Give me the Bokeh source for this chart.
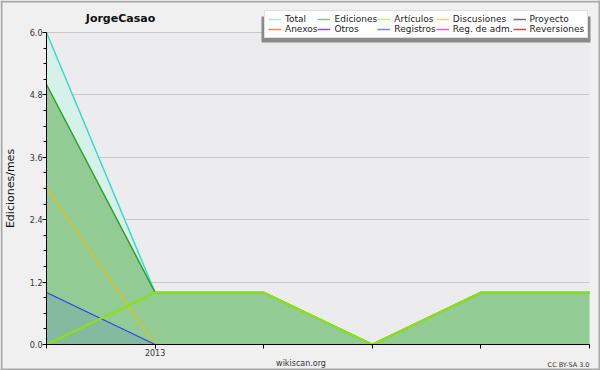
from bokeh.plotting import figure
from bokeh.models import (Range1d, FixedTicker, PrintfTickFormatter, Label, Legend,
                          LegendItem, BoxAnnotation, Grid)
from bokeh.embed import file_html
from bokeh.resources import INLINE

# ---- data ----
x_idx = [0, 1, 2, 3, 4, 5]
x_tick_labels = ["", "2013", "", "", "", ""]
total = [6, 1, 1, 0, 1, 1]
ediciones = [5, 1, 1, 0, 1, 1]
articulos = [0, 1, 1, 0, 1, 1]
discusiones = [3, 0]
registros = [1, 0]
y_ticks = [0.0, 1.2, 2.4, 3.6, 4.8, 6.0]
y_minor = [0.3, 0.6, 0.9, 1.5, 1.8, 2.1, 2.7, 3.0, 3.3, 3.9, 4.2, 4.5, 5.1, 5.4, 5.7]
legend_names = ["Total", "Ediciones", "Artículos", "Discusiones", "Proyecto",
                "Anexos", "Otros", "Registros", "Reg. de adm.", "Reversiones"]
legend_colors = ["#a8e8e0", "#80c888", "#c8f078", "#f8d070", "#707070",
                 "#f08850", "#9050d0", "#8080f0", "#d860e0", "#e84040"]

FONT = "DejaVu Sans"
W, H = 600, 370
X0, X5 = 46.0, 589.0          # pixel position of first / last period
Y0, Y6 = 344.0, 32.0          # pixel position of 0.0 / 6.0
SX = (X5 - X0) / 5.0
SY = (Y0 - Y6) / 6.0

has_cross = "cross_bounds" in Grid.properties()
right_border = 0 if has_cross else 6


def dx(px):
    return (px - X0) / SX


def dy(py):
    return (Y0 - py) / SY


p = figure(width=W, height=H, output_backend="svg", toolbar_location=None,
           x_range=Range1d(dx(0), dx(W - right_border)), y_range=Range1d(dy(H), dy(0)),
           min_border_left=0, min_border_right=right_border,
           min_border_top=0, min_border_bottom=0)
p.border_fill_color = "#f0f0f0"
p.background_fill_color = "#f0f0f0"
p.outline_line_color = None

# plot-area background
p.add_layout(BoxAnnotation(left=0, right=5, bottom=0, top=6, fill_color="#ececee",
                           fill_alpha=1.0, line_color=None, level="image"))

# x axis (drawn at y = 0 inside the frame)
xa = p.xaxis[0]
xa.fixed_location = 0
xa.bounds = (0, 5)
xa.ticker = FixedTicker(ticks=x_idx, minor_ticks=[])
xa.major_label_overrides = {i: lab for i, lab in zip(x_idx, x_tick_labels)}
xa.major_label_text_font = FONT
xa.major_label_text_font_size = "8px"
xa.major_label_text_color = "#333333"
xa.major_label_standoff = 0
xa.major_tick_out = 4
xa.major_tick_in = 0
xa.axis_line_color = "black"
xa.major_tick_line_color = "black"

# y axis (drawn at x = 0 inside the frame)
ya = p.yaxis[0]
ya.fixed_location = 0
ya.bounds = (0, 6)
ya.ticker = FixedTicker(ticks=y_ticks, minor_ticks=y_minor)
ya.formatter = PrintfTickFormatter(format="%.1f")
ya.major_label_text_font = FONT
ya.major_label_text_font_size = "8px"
ya.major_label_text_color = "#333333"
ya.major_label_standoff = 0
ya.major_tick_out = 4
ya.major_tick_in = 0
ya.minor_tick_out = 3
ya.minor_tick_in = 0
ya.axis_label = "Ediciones/mes"
ya.axis_label_text_font = FONT
ya.axis_label_text_font_size = "11px"
ya.axis_label_text_font_style = "normal"
ya.axis_label_text_color = "#111111"
ya.axis_label_standoff = 10
ya.axis_line_color = "black"

p.xgrid.grid_line_color = None
p.ygrid.grid_line_color = "#c8c8c8"
p.ygrid.bounds = (0, 6)
if has_cross:
    p.ygrid[0].cross_bounds = (0, 5)

# areas
p.varea(x=x_idx, y1=[0] * len(x_idx), y2=total, fill_color="#d6f0ea")
p.varea(x=x_idx, y1=[0] * len(x_idx), y2=ediciones, fill_color="#93cb95")
p.varea(x=x_idx[:len(registros)], y1=[0] * len(registros), y2=registros,
        fill_color="#2040ff", fill_alpha=0.12)

# lines
p.line(x_idx, total, line_color="#3fd8c8", line_width=1.5)
p.line(x_idx, ediciones, line_color="#2ea02e", line_width=1.5)
p.line(x_idx[:len(discusiones)], discusiones, line_color="#ecc000", line_width=1.2)
p.line(x_idx[:len(registros)], registros, line_color="#2a44e8", line_width=1.2)
p.line(x_idx, articulos, line_color="#90e010", line_width=2)

# outer frame strips
BORDER = "#a8a8a8"
for l, r, t, b in [(0, W, 0, 2), (W - 2, W, 0, H), (0, W, H - 2, H), (0, 2, 0, H)]:
    p.add_layout(BoxAnnotation(left=dx(l), right=dx(r), top=dy(t), bottom=dy(b),
                               fill_color=BORDER, fill_alpha=1.0, line_color=None))

# legend shadow
p.add_layout(BoxAnnotation(left=dx(261), right=dx(590), top=dy(16), bottom=dy(42),
                           fill_color="#8a8a8a", fill_alpha=1.0, line_color=None))

# legend (swatch renderers hold no visible data)
nan = float("nan")
items = []
for name, col in zip(legend_names, legend_colors):
    r = p.line([0, 0], [nan, nan], line_color=col, line_width=1.5)
    items.append(LegendItem(label=name, renderers=[r]))
leg = Legend(items=items, orientation="horizontal", ncols=5,
             location=(264, H - 38),
             label_text_font=FONT, label_text_font_size="9px", label_text_color="#222222",
             label_text_line_height=1.0,
             glyph_width=13, glyph_height=10, label_standoff=4, label_height=10,
             spacing=0, padding=3, margin=0, background_fill_color="white",
             background_fill_alpha=1.0, border_line_color="#c0c0c0", border_line_width=1)
p.add_layout(leg, "center")

# title and footers
p.add_layout(Label(x=dx(120), y=dy(17.5), text="JorgeCasao",
                   text_align="center", text_baseline="alphabetic", text_font=FONT,
                   text_font_size="11px", text_font_style="bold", text_color="#111111"))
p.add_layout(Label(x=dx(300.5), y=dy(363), text="wikiscan.org",
                   text_align="center", text_baseline="alphabetic", text_font=FONT,
                   text_font_size="8px", text_color="#333333"))
p.add_layout(Label(x=dx(589), y=dy(364), text="CC BY-SA 3.0",
                   text_align="right", text_baseline="alphabetic", text_font=FONT,
                   text_font_size="6.5px", text_color="#333333"))

open("out.html", "w").write(file_html(p, INLINE))
